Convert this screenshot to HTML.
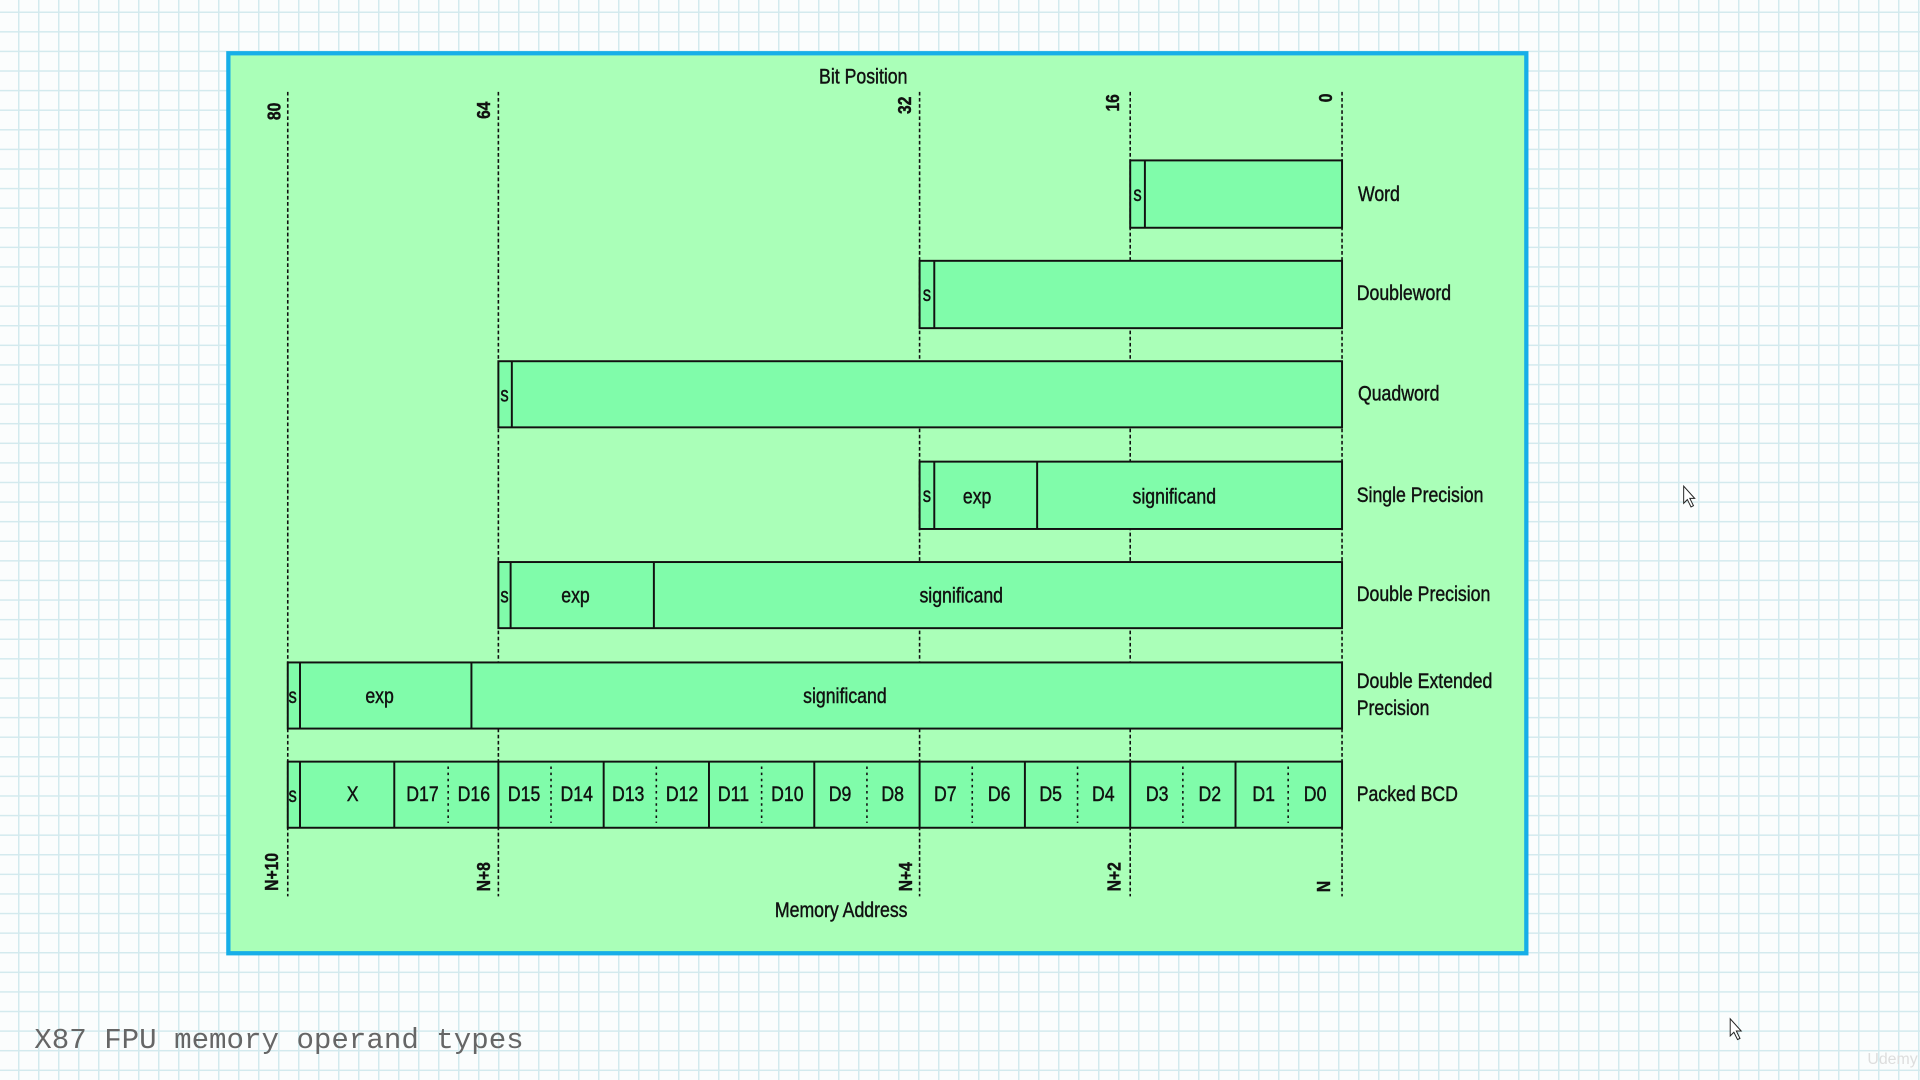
<!DOCTYPE html>
<html><head><meta charset="utf-8">
<style>
html,body{margin:0;padding:0;}
body{width:1920px;height:1080px;overflow:hidden;background-color:#fbfdfd;
background-image:linear-gradient(to right,#d3eaee 0,#d3eaee 1.5px,transparent 1.5px),linear-gradient(to bottom,#d3eaee 0,#d3eaee 1.5px,transparent 1.5px);
background-size:20px 19.6px;background-position:18px 11.5px;}
svg{position:absolute;left:0;top:0;}
text{font-family:"Liberation Sans",Arial,sans-serif;fill:#111;stroke:#111;stroke-width:0.35;}
</style></head><body>
<svg width="1920" height="1080" viewBox="0 0 1568 882" xmlns="http://www.w3.org/2000/svg">
<rect x="186.5" y="43.5" width="1060" height="735" fill="#aaffb8" stroke="#16aee8" stroke-width="3.5"/>
<g stroke="#111" stroke-width="1.3" stroke-dasharray="3,2">
<line x1="235" y1="75" x2="235" y2="732"/>
<line x1="407" y1="75" x2="407" y2="732"/>
<line x1="751" y1="75" x2="751" y2="732"/>
<line x1="923" y1="75" x2="923" y2="732"/>
<line x1="1096" y1="75" x2="1096" y2="732"/>
</g>
<g font-size="17">
<text x="705" y="68" text-anchor="middle" transform="translate(705 0) scale(0.85 1) translate(-705 0)">Bit Position</text>
<text x="687" y="749" text-anchor="middle" transform="translate(687 0) scale(0.85 1) translate(-687 0)">Memory Address</text>
</g>
<g font-size="15" font-weight="bold">
<text transform="translate(229 91) rotate(-90) scale(0.85 1)" text-anchor="middle">80</text>
<text transform="translate(400 90) rotate(-90) scale(0.85 1)" text-anchor="middle">64</text>
<text transform="translate(744 86) rotate(-90) scale(0.85 1)" text-anchor="middle">32</text>
<text transform="translate(914 84) rotate(-90) scale(0.85 1)" text-anchor="middle">16</text>
<text transform="translate(1088 80) rotate(-90) scale(0.85 1)" text-anchor="middle">0</text>
<text transform="translate(227 712) rotate(-90) scale(0.85 1)" text-anchor="middle">N+10</text>
<text transform="translate(400 716) rotate(-90) scale(0.85 1)" text-anchor="middle">N+8</text>
<text transform="translate(745 716) rotate(-90) scale(0.85 1)" text-anchor="middle">N+4</text>
<text transform="translate(915 716) rotate(-90) scale(0.85 1)" text-anchor="middle">N+2</text>
<text transform="translate(1086 724) rotate(-90) scale(0.85 1)" text-anchor="middle">N</text>
</g>
<g fill="#80fcaa" stroke="#111" stroke-width="1.6">
<rect x="923" y="131" width="173" height="55"/><line x1="935" y1="131" x2="935" y2="186"/>
<rect x="751" y="213" width="345" height="55"/><line x1="763" y1="213" x2="763" y2="268"/>
<rect x="407" y="295" width="689" height="54"/><line x1="418" y1="295" x2="418" y2="349"/>
<rect x="751" y="377" width="345" height="55"/><line x1="763" y1="377" x2="763" y2="432"/><line x1="847" y1="377" x2="847" y2="432"/>
<rect x="407" y="459" width="689" height="54"/><line x1="417" y1="459" x2="417" y2="513"/><line x1="534" y1="459" x2="534" y2="513"/>
<rect x="235" y="541" width="861" height="54"/><line x1="245" y1="541" x2="245" y2="595"/><line x1="385" y1="541" x2="385" y2="595"/>
<rect x="235" y="622" width="861" height="54"/><line x1="245" y1="622" x2="245" y2="676"/><line x1="322" y1="622" x2="322" y2="676"/>
<line x1="407" y1="622" x2="407" y2="676"/><line x1="493" y1="622" x2="493" y2="676"/><line x1="579" y1="622" x2="579" y2="676"/><line x1="665" y1="622" x2="665" y2="676"/><line x1="751" y1="622" x2="751" y2="676"/><line x1="837" y1="622" x2="837" y2="676"/><line x1="923" y1="622" x2="923" y2="676"/><line x1="1009" y1="622" x2="1009" y2="676"/>
</g>
<g stroke="#111" stroke-width="1.3" stroke-dasharray="2,3">
<line x1="366" y1="626" x2="366" y2="672"/><line x1="450" y1="626" x2="450" y2="672"/><line x1="536" y1="626" x2="536" y2="672"/><line x1="622" y1="626" x2="622" y2="672"/><line x1="708" y1="626" x2="708" y2="672"/><line x1="794" y1="626" x2="794" y2="672"/><line x1="880" y1="626" x2="880" y2="672"/><line x1="966" y1="626" x2="966" y2="672"/><line x1="1052" y1="626" x2="1052" y2="672"/>
</g>
<g font-size="17" text-anchor="middle">
<text transform="translate(929 164) scale(0.8 1)">s</text>
<text transform="translate(757 246) scale(0.8 1)">s</text>
<text transform="translate(412 328) scale(0.8 1)">s</text>
<text transform="translate(757 410) scale(0.8 1)">s</text>
<text transform="translate(412 492) scale(0.8 1)">s</text>
<text transform="translate(239 574) scale(0.8 1)">s</text>
<text transform="translate(239 655) scale(0.8 1)">s</text>
<text transform="translate(798 411) scale(0.85 1)">exp</text>
<text transform="translate(959 411) scale(0.85 1)">significand</text>
<text transform="translate(470 492) scale(0.85 1)">exp</text>
<text transform="translate(785 492) scale(0.85 1)">significand</text>
<text transform="translate(310 574) scale(0.85 1)">exp</text>
<text transform="translate(690 574) scale(0.85 1)">significand</text>
<text transform="translate(288 654) scale(0.85 1)">X</text>
<text transform="translate(345 654) scale(0.85 1)">D17</text>
<text transform="translate(387 654) scale(0.85 1)">D16</text>
<text transform="translate(428 654) scale(0.85 1)">D15</text>
<text transform="translate(471 654) scale(0.85 1)">D14</text>
<text transform="translate(513 654) scale(0.85 1)">D13</text>
<text transform="translate(557 654) scale(0.85 1)">D12</text>
<text transform="translate(599 654) scale(0.85 1)">D11</text>
<text transform="translate(643 654) scale(0.85 1)">D10</text>
<text transform="translate(686 654) scale(0.85 1)">D9</text>
<text transform="translate(729 654) scale(0.85 1)">D8</text>
<text transform="translate(772 654) scale(0.85 1)">D7</text>
<text transform="translate(816 654) scale(0.85 1)">D6</text>
<text transform="translate(858 654) scale(0.85 1)">D5</text>
<text transform="translate(901 654) scale(0.85 1)">D4</text>
<text transform="translate(945 654) scale(0.85 1)">D3</text>
<text transform="translate(988 654) scale(0.85 1)">D2</text>
<text transform="translate(1032 654) scale(0.85 1)">D1</text>
<text transform="translate(1074 654) scale(0.85 1)">D0</text>
</g>
<g font-size="17">
<text transform="translate(1109 164) scale(0.85 1)">Word</text>
<text transform="translate(1108 245) scale(0.85 1)">Doubleword</text>
<text transform="translate(1109 327) scale(0.85 1)">Quadword</text>
<text transform="translate(1108 410) scale(0.85 1)">Single Precision</text>
<text transform="translate(1108 491) scale(0.85 1)">Double Precision</text>
<text transform="translate(1108 562) scale(0.85 1)">Double Extended</text>
<text transform="translate(1108 584) scale(0.85 1)">Precision</text>
<text transform="translate(1108 654) scale(0.85 1)">Packed BCD</text>
</g>
<text x="28" y="856" font-size="23.8" style="font-family:'Liberation Mono',monospace;fill:#666;stroke:none">X87 FPU memory operand types</text>
<path d="M1375 397 L1375 411 L1378 408 L1381 414 L1383 413 L1380 407 L1384 407 Z" fill="#fff" stroke="#222" stroke-width="0.8"/>
<path d="M1413 832 L1413 846 L1416 843 L1419 849 L1421 848 L1418 842 L1422 842 Z" fill="#fff" stroke="#222" stroke-width="0.8"/>
<text x="1525" y="869" font-size="13" style="fill:#ddd;stroke:none">Udemy</text>
</svg>
</body></html>
